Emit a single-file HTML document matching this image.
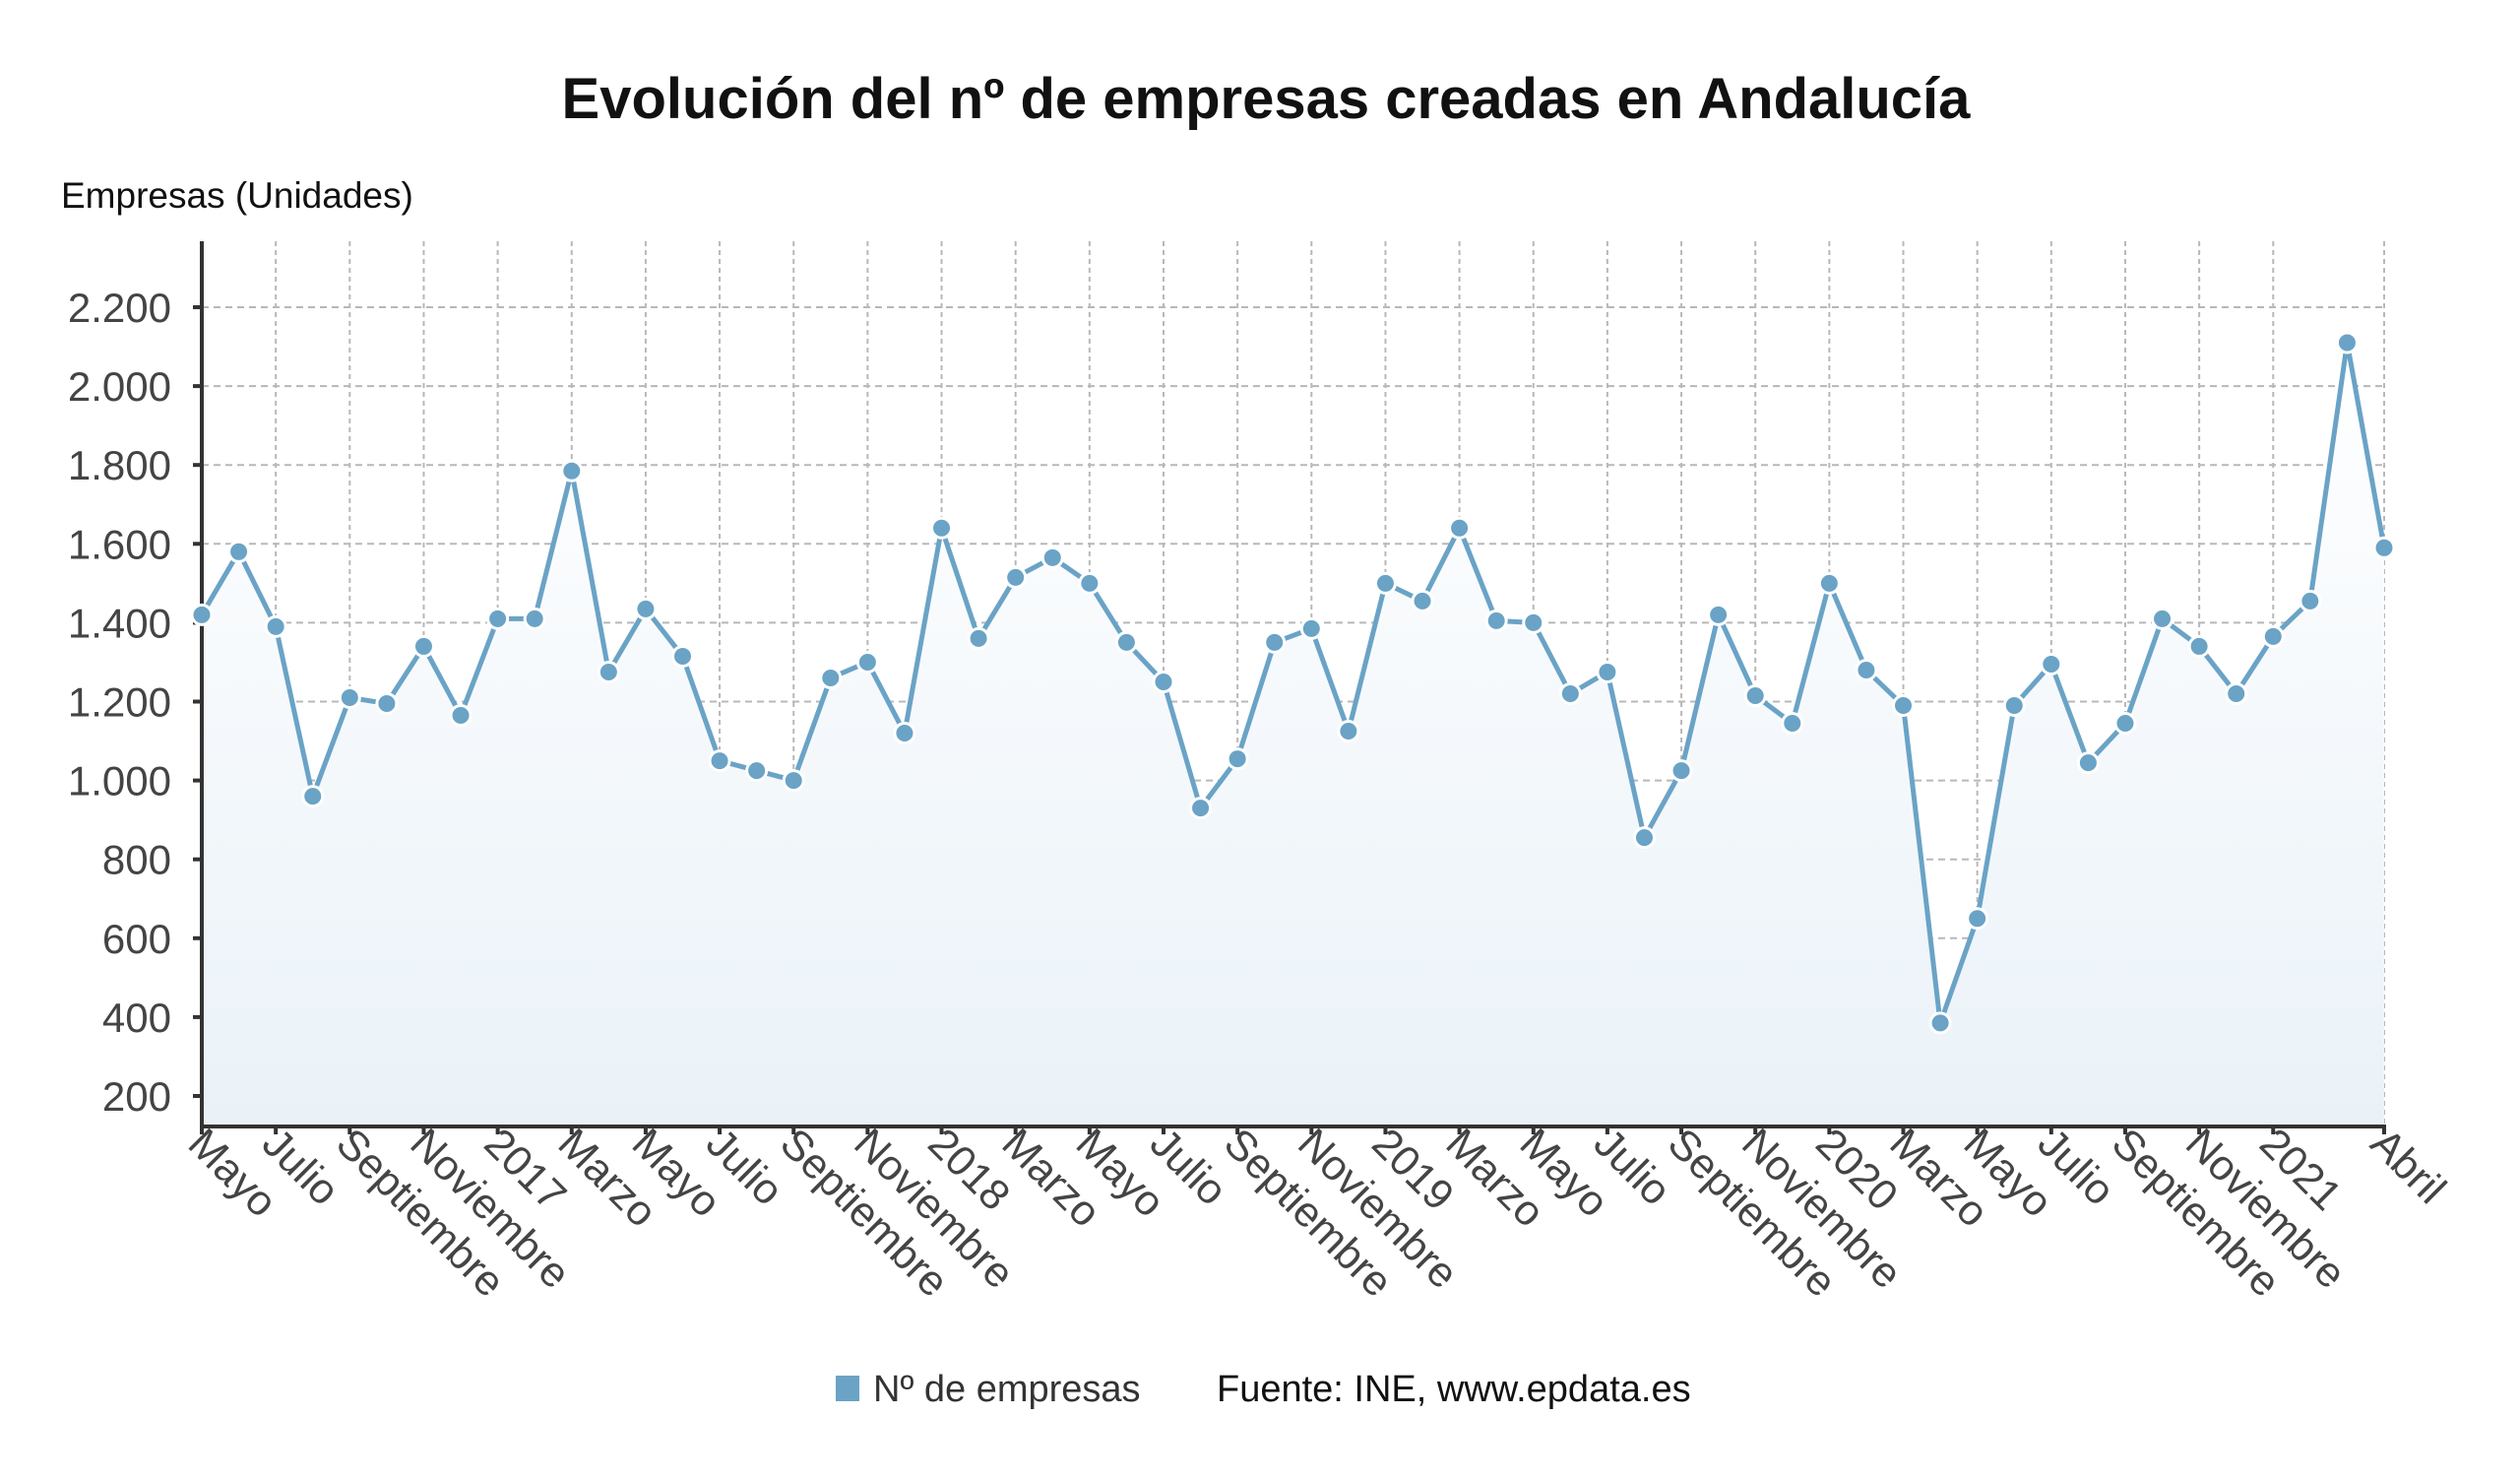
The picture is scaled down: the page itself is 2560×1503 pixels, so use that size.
<!DOCTYPE html>
<html><head><meta charset="utf-8"><style>
html,body{margin:0;padding:0;background:#fff;}
svg{display:block;font-family:"Liberation Sans","DejaVu Sans",sans-serif;}
</style></head><body>
<svg id="chart" width="2560" height="1503" viewBox="0 0 2560 1503" xmlns="http://www.w3.org/2000/svg">
<defs><linearGradient id="fillg" x1="0" y1="0" x2="0" y2="1"><stop offset="0" stop-color="#ffffff"/><stop offset="1" stop-color="#eaf2f8"/></linearGradient></defs>
<text x="1286" y="120" text-anchor="middle" font-size="58" font-weight="bold" fill="#111">Evolución del nº de empresas creadas en Andalucía</text>
<text x="62" y="211" font-size="37" fill="#111">Empresas (Unidades)</text>
<g id="grid"></g>
<path id="area" fill="url(#fillg)"/>
<path id="line" fill="none" stroke="#6aa3c6" stroke-width="5" stroke-linejoin="round"/>
<g id="axes"></g>
<g id="points"></g>
<g id="xlabels"></g>
<g id="ylabels"></g>
<rect x="849" y="1397" width="24" height="26" fill="#6aa3c6"/>
<text x="887" y="1423" font-size="38" fill="#333">Nº de empresas</text>
<text x="1236" y="1423" font-size="38" fill="#111">Fuente: INE, www.epdata.es</text>
</svg>
<script>
const values = [1420,1580,1390,960,1210,1195,1340,1165,1410,1410,1785,1275,1435,1315,1050,1025,1000,1260,1300,1120,1640,1360,1515,1565,1500,1350,1250,930,1055,1350,1385,1125,1500,1455,1640,1405,1400,1220,1275,855,1025,1420,1215,1145,1500,1280,1190,385,650,1190,1295,1045,1145,1410,1340,1220,1365,1455,2110,1590];
const xLabels = ["Mayo","Julio","Septiembre","Noviembre","2017","Marzo","Mayo","Julio","Septiembre","Noviembre","2018","Marzo","Mayo","Julio","Septiembre","Noviembre","2019","Marzo","Mayo","Julio","Septiembre","Noviembre","2020","Marzo","Mayo","Julio","Septiembre","Noviembre","2021","Abril"];
const xLabelIdx = [0,2,4,6,8,10,12,14,16,18,20,22,24,26,28,30,32,34,36,38,40,42,44,46,48,50,52,54,56,59];
const yTicks = [200,400,600,800,1000,1200,1400,1600,1800,2000,2200];
const yTickLabels = ["200","400","600","800","1.000","1.200","1.400","1.600","1.800","2.000","2.200"];

const NS="http://www.w3.org/2000/svg";
const X0=205,X1=2422,YB=1144,YT=245;
const xs=i=>X0+(X1-X0)*i/(values.length-1);
const ys=v=>1113-(v-200)*0.4005;
function mk(t,a,p){const e=document.createElementNS(NS,t);for(const k in a)e.setAttribute(k,a[k]);p.appendChild(e);return e;}
const grid=document.getElementById('grid');
yTicks.forEach(v=>{const l=mk('line',{x1:X0,x2:X1,y1:ys(v),y2:ys(v),stroke:'#b8b8b8','stroke-width':2,'stroke-dasharray':'7 5'},grid);

});
xLabelIdx.forEach(i=>{const l=mk('line',{x1:xs(i),x2:xs(i),y1:YT,y2:YB,stroke:'#b8b8b8','stroke-width':2,'stroke-dasharray':'5 4'},grid);

});
let d='';values.forEach((v,i)=>{d+=(i?'L':'M')+xs(i)+' '+ys(v);});
document.getElementById('line').setAttribute('d',d);
document.getElementById('area').setAttribute('d',d+'L'+xs(values.length-1)+' '+YB+'L'+X0+' '+YB+'Z');
const axes=document.getElementById('axes');
mk('line',{x1:X0,x2:X0,y1:YT,y2:YB,stroke:'#333','stroke-width':4},axes);
mk('line',{x1:X0-2,x2:X1+2,y1:YB,y2:YB,stroke:'#333','stroke-width':4},axes);
const yl=document.getElementById('ylabels');
yTicks.forEach((v,k)=>{mk('line',{x1:X0-9,x2:X0,y1:ys(v),y2:ys(v),stroke:'#333','stroke-width':4},axes);
const t=mk('text',{x:174,y:ys(v)+15,'text-anchor':'end','font-size':42,fill:'#444'},yl);t.textContent=yTickLabels[k];

});
const xl=document.getElementById('xlabels');
xLabelIdx.forEach((i,k)=>{const x=xs(i);mk('line',{x1:x,x2:x,y1:YB,y2:YB+8,stroke:'#333','stroke-width':4},axes);
const t=mk('text',{x:0,y:0,'font-size':43,fill:'#444',transform:'translate('+(x-16)+','+(YB+20)+') rotate(45)'},xl);t.textContent=xLabels[k];

});
const pts=document.getElementById('points');
values.forEach((v,i)=>{const c=mk('circle',{cx:xs(i),cy:ys(v),r:10,fill:'#6aa3c6',stroke:'#fff','stroke-width':3},pts);

});
</script>
</body></html>
